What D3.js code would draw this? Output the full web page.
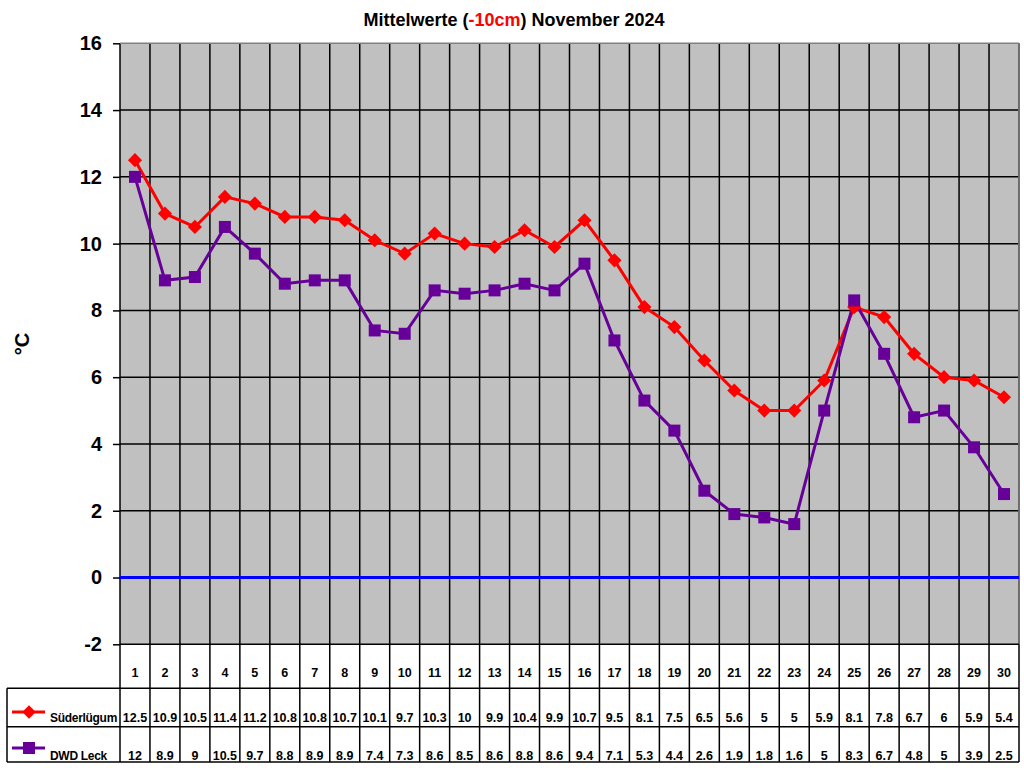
<!DOCTYPE html>
<html><head><meta charset="utf-8">
<script src="https://cdn.jsdelivr.net/npm/d3@7/dist/d3.min.js"></script>
<style>body{margin:0;background:#fff;}svg{display:block;font-family:"Liberation Sans",Arial,sans-serif;font-weight:bold;}</style>
</head><body>
<svg id="c" width="1024" height="768"></svg>
<script>
const days = d3.range(1, 31);
const suederluegum = [12.5,10.9,10.5,11.4,11.2,10.8,10.8,10.7,10.1,9.7,10.3,10,9.9,10.4,9.9,10.7,9.5,8.1,7.5,6.5,5.6,5,5,5.9,8.1,7.8,6.7,6,5.9,5.4];
const dwdLeck = [12,8.9,9,10.5,9.7,8.8,8.9,8.9,7.4,7.3,8.6,8.5,8.6,8.8,8.6,9.4,7.1,5.3,4.4,2.6,1.9,1.8,1.6,5,8.3,6.7,4.8,5,3.9,2.5];
const yTicks = [-2,0,2,4,6,8,10,12,14,16];
const seriesNames = ["Süderlügum","DWD Leck"];
const seriesColors = ["#FF0000","#660099"];

const svg = d3.select("#c");
const L=120, R=1019, T=43.3, B=644.3;
const x = d3.scaleBand().domain(days).range([L,R]);
const y = d3.scaleLinear().domain([-2,16]).range([B,T]);

// title
const title = svg.append("text").attr("x",514).attr("y",26).attr("text-anchor","middle").attr("font-size",18);
title.append("tspan").text("Mittelwerte (");
title.append("tspan").attr("fill","#FF0000").text("-10cm");
title.append("tspan").text(") November 2024");

// plot background
svg.append("rect").attr("x",L).attr("y",T).attr("width",R-L).attr("height",B-T).attr("fill","#C0C0C0");

// horizontal grid
svg.append("g").selectAll("line").data(yTicks.filter(d=>d!==-2 && d!==16)).join("line")
  .attr("x1",L).attr("x2",R).attr("y1",d=>y(d)).attr("y2",d=>y(d)).attr("stroke","#000").attr("stroke-width",1.5);

// table geometry
const rowTop = B, row1 = 688.3, row2 = 726.7, rowBot = 762;

// vertical lines (through plot and table)
const vx = days.map(d=>x(d)).concat([R]);
svg.append("g").selectAll("line").data(vx).join("line")
  .attr("x1",d=>d).attr("x2",d=>d).attr("y1",T).attr("y2",rowBot).attr("stroke","#000").attr("stroke-width",1.5);

// plot border (top/right gray)
svg.append("line").attr("x1",L).attr("x2",R).attr("y1",T).attr("y2",T).attr("stroke","#808080").attr("stroke-width",1.5);
svg.append("line").attr("x1",R).attr("x2",R).attr("y1",T).attr("y2",B).attr("stroke","#808080").attr("stroke-width",1.5);

// table horizontal lines
svg.append("line").attr("x1",L).attr("x2",R).attr("y1",rowTop).attr("y2",rowTop).attr("stroke","#000").attr("stroke-width",1.5);
[row1,row2,rowBot].forEach(yy=>svg.append("line").attr("x1",7).attr("x2",R).attr("y1",yy).attr("y2",yy).attr("stroke","#000").attr("stroke-width",1.5));
svg.append("line").attr("x1",7).attr("x2",7).attr("y1",row1).attr("y2",rowBot).attr("stroke","#000").attr("stroke-width",1.5);

// y axis
const yAxis = d3.axisLeft(y).tickValues(yTicks).tickSize(7).tickPadding(11).tickFormat(d=>String(d));
const ga = svg.append("g").attr("transform",`translate(${L},0)`).call(yAxis);
ga.select(".domain").remove();
ga.selectAll(".tick line").attr("stroke","#000").attr("stroke-width",1.5);
ga.selectAll(".tick text").attr("font-size",20).attr("font-weight","bold").attr("font-family","'Liberation Sans',Arial,sans-serif").attr("fill","#000");

svg.append("text").attr("transform","translate(29,344) rotate(-90)").attr("text-anchor","middle").attr("font-size",20).text("°C");

// zero line
svg.append("line").attr("x1",L).attr("x2",R).attr("y1",y(0)).attr("y2",y(0)).attr("stroke","#0000FF").attr("stroke-width",3);

// series
const cx = d=>x(d)+x.bandwidth()/2;
const line = d3.line().x((v,i)=>cx(days[i])).y(v=>y(v));
const data = [suederluegum, dwdLeck];
data.forEach((vals,si)=>{
  svg.append("path").attr("d",line(vals)).attr("fill","none").attr("stroke",seriesColors[si]).attr("stroke-width",3);
});
// markers
svg.append("g").selectAll("path").data(suederluegum).join("path")
  .attr("d",d3.symbol(d3.symbolSquare,100)).attr("transform",(v,i)=>`translate(${cx(days[i])},${y(v)}) rotate(45)`).attr("fill",seriesColors[0]);
svg.append("g").selectAll("rect").data(dwdLeck).join("rect")
  .attr("x",(v,i)=>cx(days[i])-6).attr("y",v=>y(v)-6).attr("width",12).attr("height",12).attr("fill",seriesColors[1]);

// table text
const tt = svg.append("g").attr("font-size",12.5).attr("text-anchor","middle");
tt.selectAll(".d").data(days).join("text").attr("x",d=>cx(d)).attr("y",677).text(d=>d);
tt.selectAll(".s").data(suederluegum).join("text").attr("x",(v,i)=>cx(days[i])).attr("y",722).text(v=>v);
tt.selectAll(".w").data(dwdLeck).join("text").attr("x",(v,i)=>cx(days[i])).attr("y",760).text(v=>v);

// legend in table
const legY = [712, 748], legTxtY = [722, 760];
seriesNames.forEach((n,si)=>{
  svg.append("line").attr("x1",12).attr("x2",45).attr("y1",legY[si]).attr("y2",legY[si]).attr("stroke",seriesColors[si]).attr("stroke-width",3);
  if(si===0){
    svg.append("path").attr("d",d3.symbol(d3.symbolSquare,90)).attr("transform",`translate(29,${legY[si]}) rotate(45)`).attr("fill",seriesColors[si]);
  } else {
    svg.append("rect").attr("x",23).attr("y",legY[si]-6).attr("width",12).attr("height",12).attr("fill",seriesColors[si]);
  }
  svg.append("text").attr("x",50).attr("y",legTxtY[si]).attr("font-size",12).attr("letter-spacing",-0.3).text(n);
});
</script>
</body></html>
